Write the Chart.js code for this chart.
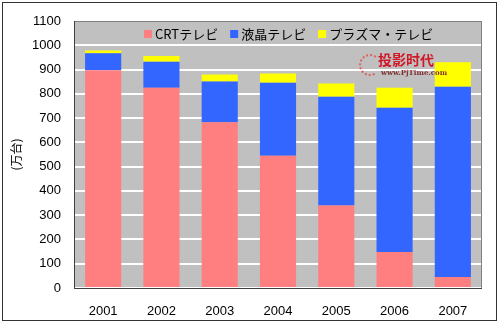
<!DOCTYPE html>
<html>
<head>
<meta charset="utf-8">
<script src="https://cdn.jsdelivr.net/npm/chart.js@4"></script>
<style>
  html, body { margin: 0; padding: 0; background: #fff; }
  #wrap { width: 500px; height: 325px; }
</style>
</head>
<body>
<div id="wrap"><canvas id="myChart" width="500" height="325"></canvas></div>
<script>
// values (万台)
var years = ['2001', '2002', '2003', '2004', '2005', '2006', '2007'];
var crt = [897, 825, 683, 545, 340, 148, 45];
var lcd = [70, 107, 168, 301, 448, 595, 784];
var plasma = [11, 24, 29, 38, 55, 82, 101];
var y_ticks = [0, 100, 200, 300, 400, 500, 600, 700, 800, 900, 1000, 1100];

var font_jp = "'Noto Sans CJK JP', 'Liberation Sans', sans-serif";
var font_num = "'Liberation Sans', Arial, sans-serif";

// gray plot background, frame round the plot and round the picture
var frame = {
    id: 'frame',
    beforeDraw: function (chart) {
        var c = chart.ctx, a = chart.chartArea;
        c.save();
        c.fillStyle = '#ffffff';
        c.fillRect(0, 0, chart.width, chart.height);
        c.fillStyle = '#c0c0c0';
        c.fillRect(a.left, a.top, a.right - a.left, a.bottom - a.top);
        c.restore();
    },
    afterDraw: function (chart) {
        var c = chart.ctx, a = chart.chartArea;
        c.save();
        c.strokeStyle = '#808080';
        c.lineWidth = 1;
        c.strokeRect(a.left + 0.5, a.top + 0.5, a.right - a.left - 1, a.bottom - a.top);
        c.strokeStyle = '#404040';
        c.beginPath();
        c.moveTo(a.left + 0.5, a.top);
        c.lineTo(a.left + 0.5, a.bottom + 0.5);
        c.lineTo(a.right, a.bottom + 0.5);
        c.stroke();
        c.strokeStyle = '#333333';
        c.strokeRect(2.5, 2.5, 494, 318);

        // legend inside the plot, along the top
        c.font = "13px " + font_jp;
        c.textBaseline = 'middle';
        var x = a.left + 70, y = a.top + 13;
        chart.data.datasets.forEach(function (ds) {
            c.fillStyle = ds.backgroundColor;
            c.fillRect(x, y - 4, 8, 8);
            c.fillStyle = '#000';
            c.fillText(ds.label, x + 11, y);
            x += 11 + c.measureText(ds.label).width + 12;
        });

        // watermark
        c.strokeStyle = '#e06060';
        c.lineWidth = 2;
        c.setLineDash([2, 2]);
        c.beginPath();
        c.arc(370, 65, 10, Math.PI * 0.35, Math.PI * 1.75);
        c.stroke();
        c.setLineDash([]);
        c.fillStyle = '#d01828';
        c.font = "bold 14px 'Noto Sans CJK SC', sans-serif";
        c.fillText('投影时代', 378, 60);
        c.fillStyle = '#803030';
        c.font = "bold 7px 'DejaVu Serif', serif";
        c.fillText('www.PjTime.com', 381, 73);
        c.restore();
    }
};

var ctx = document.getElementById('myChart');
var chart = new Chart(ctx, {
    type: 'bar',
    data: {
        labels: years,
        datasets: [
            { label: 'CRTテレビ', data: crt, backgroundColor: '#ff7f80' },
            { label: '液晶テレビ', data: lcd, backgroundColor: '#3366ff' },
            { label: 'プラズマ・テレビ', data: plasma, backgroundColor: '#ffff00' }
        ]
    },
    options: {
        responsive: false,
        animation: false,
        devicePixelRatio: 1,
        layout: { padding: { left: 3, right: 18, top: 21, bottom: 0 } },
        datasets: { bar: { categoryPercentage: 1, barPercentage: 0.62 } },
        scales: {
            x: {
                stacked: true,
                grid: { display: false },
                border: { display: false },
                ticks: { color: '#000', padding: 8, font: { family: font_num, size: 13 } },
                afterFit: function (scale) { scale.height = 37; }
            },
            y: {
                stacked: true,
                min: 0,
                max: 1100,
                afterBuildTicks: function (scale) {
                    scale.ticks = y_ticks.map(function (v) { return { value: v }; });
                },
                grid: { color: '#ffffff', lineWidth: 2, drawTicks: false },
                border: { display: false },
                ticks: {
                    color: '#000',
                    padding: 13,
                    font: { family: font_num, size: 13 },
                    callback: function (v) { return String(v); }
                },
                title: {
                    display: true,
                    text: '(万台)',
                    color: '#000',
                    padding: { top: 6, bottom: 0 },
                    font: { family: font_jp, size: 12 }
                },
                afterFit: function (scale) { scale.width = 71; }
            }
        },
        plugins: {
            legend: { display: false },
            tooltip: { enabled: false }
        }
    },
    plugins: [frame]
});
</script>
</body>
</html>
